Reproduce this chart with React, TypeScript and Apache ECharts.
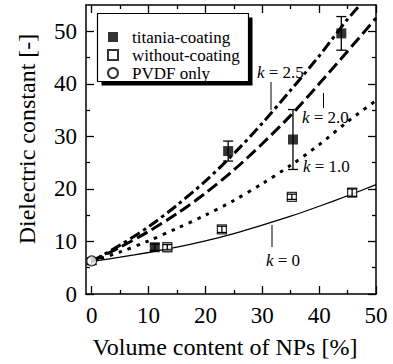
import { useEffect, useRef } from "react";
import * as echarts from "echarts";

const FONT = "Liberation Serif, serif";

// axis ticks
const xTicks = [0, 10, 20, 30, 40, 50];
const xMinor = [5, 15, 25, 35, 45];
const yTicks = [0, 10, 20, 30, 40, 50];
const yMinor = [5, 15, 25, 35, 45];

// model curves
const curveX = [0, 5, 10, 15, 20, 25, 30, 35, 40, 45, 50];
const k0 = [6.2, 7.0, 7.9, 8.9, 10.1, 11.5, 13.1, 14.8, 16.7, 18.7, 20.8];
const k10 = [6.2, 8.0, 10.1, 12.5, 15.0, 17.8, 21.0, 24.5, 28.4, 32.8, 36.8];
const k20 = [6.2, 8.9, 11.9, 15.3, 19.2, 23.6, 28.6, 34.0, 40.0, 46.2, 52.5];
const k25X = [0, 5, 10, 15, 20, 25, 30, 35, 40, 45, 47.2];
const k25 = [6.2, 9.3, 12.8, 16.9, 21.5, 26.7, 32.5, 38.8, 45.3, 52.3, 55];

// measurements
const titaniaX = [11.1, 24.0, 35.4, 43.9];
const titaniaY = [8.9, 27.2, 29.4, 49.6];
const titaniaLo = [8.3, 25.3, 23.7, 46.4];
const titaniaHi = [9.5, 29.1, 35.1, 52.8];

const withoutX = [13.3, 22.9, 35.2, 45.8];
const withoutY = [8.9, 12.3, 18.5, 19.3];
const withoutLo = [8.4, 11.7, 18.0, 18.6];
const withoutHi = [9.4, 12.9, 19.0, 20.0];

const pvdfX = [0];
const pvdfY = [6.3];
const pvdfLo = [5.6];
const pvdfHi = [6.9];

const legendNames = ["titania-coating", "without-coating", "PVDF only"];

const zip = (a: number[], b: number[]) => a.map((v, i) => [v, b[i]]);
const zip3 = (a: number[], b: number[], c: number[]) => a.map((v, i) => [v, b[i], c[i]]);

function errRender(params: any, api: any) {
  const x = api.value(0);
  const lo = api.coord([x, api.value(1)]);
  const hi = api.coord([x, api.value(2)]);
  const w = 5;
  const style = { stroke: "#000", lineWidth: 1.3 };
  return {
    type: "group",
    children: [
      { type: "line", shape: { x1: lo[0], y1: lo[1], x2: hi[0], y2: hi[1] }, style },
      { type: "line", shape: { x1: hi[0] - w, y1: hi[1], x2: hi[0] + w, y2: hi[1] }, style },
      { type: "line", shape: { x1: lo[0] - w, y1: lo[1], x2: lo[0] + w, y2: lo[1] }, style },
    ],
  };
}

function xAxisDef(position: string, values: number[], len: number, labels: boolean, lineShow: boolean) {
  return {
    type: "value",
    min: -1,
    max: 50,
    position,
    axisLine: { show: lineShow, onZero: false, lineStyle: { color: "#000", width: 1.5 } },
    axisTick: { show: true, inside: true, length: len, customValues: values, lineStyle: { color: "#000", width: 1.3 } },
    axisLabel: labels
      ? { show: true, customValues: values, margin: 10, color: "#000", fontFamily: FONT, fontSize: 23 }
      : { show: false },
    splitLine: { show: false },
  };
}

function yAxisDef(position: string, values: number[], len: number, labels: boolean, lineShow: boolean) {
  return {
    type: "value",
    min: 0,
    max: 55,
    position,
    axisLine: { show: lineShow, onZero: false, lineStyle: { color: "#000", width: 1.5 } },
    axisTick: { show: true, inside: true, length: len, customValues: values, lineStyle: { color: "#000", width: 1.3 } },
    axisLabel: labels
      ? { show: true, customValues: values, margin: 9, color: "#000", fontFamily: FONT, fontSize: 23 }
      : { show: false },
    splitLine: { show: false },
  };
}

function kLabel(text: string, x: number, y: number) {
  return {
    type: "text",
    x,
    y,
    z: 20,
    style: {
      text: "{i|k} = " + text,
      fill: "#000",
      fontFamily: FONT,
      fontSize: 17,
      verticalAlign: "middle",
      align: "left",
      rich: {
        i: { fontStyle: "italic", fontFamily: FONT, fontSize: 17, fill: "#000" },
      },
    },
  };
}

function vline(x: number, y1: number, y2: number) {
  return { type: "line", z: 20, shape: { x1: x, y1, x2: x, y2 }, style: { stroke: "#000", lineWidth: 1 } };
}

export default function App() {
  const ref = useRef<HTMLDivElement>(null);
  useEffect(() => {
    document.body.style.margin = "0";
    const chart = echarts.init(ref.current!, null, { renderer: "svg" });
    chart.setOption({
      animation: false,
      backgroundColor: "#fff",
      textStyle: { fontFamily: FONT },
      grid: { left: 86, right: 17, top: 5, bottom: 70 },
      xAxis: [
        xAxisDef("bottom", xTicks, 8, true, true),
        xAxisDef("bottom", xMinor, 4, false, false),
        xAxisDef("top", xTicks, 8, false, true),
        xAxisDef("top", xMinor, 4, false, false),
      ],
      yAxis: [
        yAxisDef("left", yTicks, 8, true, true),
        yAxisDef("left", yMinor, 4, false, false),
        yAxisDef("right", yTicks, 8, false, true),
        yAxisDef("right", yMinor, 4, false, false),
      ],
      legend: {
        data: legendNames,
        orient: "vertical",
        left: 102,
        top: 23.5,
        z: 10,
        itemWidth: 10,
        itemHeight: 10,
        itemGap: 1,
        selectedMode: false,
        textStyle: { fontFamily: FONT, fontSize: 17, lineHeight: 17, color: "#000", padding: [0, 0, 0, 9] },
      },
      graphic: [
        { type: "rect", z: 5, shape: { x: 101.5, y: 17.5, width: 151, height: 68 }, style: { fill: "#000" } },
        {
          type: "rect",
          z: 6,
          shape: { x: 97.5, y: 13.5, width: 151, height: 68 },
          style: { fill: "#fff", stroke: "#000", lineWidth: 1.2 },
        },
        {
          type: "text",
          x: 27,
          y: 139,
          rotation: Math.PI / 2,
          style: {
            text: "Dielectric constant [-]",
            fontFamily: FONT,
            fontSize: 24,
            fill: "#000",
            align: "center",
            verticalAlign: "middle",
          },
        },
        {
          type: "text",
          x: 225,
          y: 347,
          style: {
            text: "Volume content of NPs [%]",
            fontFamily: FONT,
            fontSize: 24,
            fill: "#000",
            align: "center",
            verticalAlign: "middle",
          },
        },
        kLabel("2.5", 257, 72),
        vline(271, 82, 110),
        kLabel("2.0", 302, 117),
        vline(323.5, 93, 108),
        kLabel("1.0", 303, 166),
        kLabel("0", 266, 260),
        vline(272, 225, 247),
      ],
      series: [
        {
          name: "k = 0",
          type: "line",
          data: zip(curveX, k0),
          symbol: "none",
          smooth: 0.3,
          lineStyle: { color: "#000", width: 1.3 },
          z: 3,
        },
        {
          name: "k = 1.0",
          type: "line",
          data: zip(curveX, k10),
          symbol: "none",
          smooth: 0.3,
          lineStyle: { color: "#000", width: 3, type: [3.5, 6], cap: "butt" },
          z: 3,
        },
        {
          name: "k = 2.0",
          type: "line",
          data: zip(curveX, k20),
          symbol: "none",
          smooth: 0.3,
          lineStyle: { color: "#000", width: 3, type: [12, 5], cap: "butt" },
          z: 3,
        },
        {
          name: "k = 2.5",
          type: "line",
          data: zip(k25X, k25),
          symbol: "none",
          smooth: 0.3,
          lineStyle: { color: "#000", width: 3, type: [11, 4, 3.5, 4], cap: "butt" },
          z: 3,
        },
        {
          name: "titania-coating",
          type: "scatter",
          data: zip(titaniaX, titaniaY),
          symbol: "rect",
          symbolSize: 10,
          itemStyle: { color: "#000" },
          z: 5,
        },
        {
          name: "without-coating",
          type: "scatter",
          data: zip(withoutX, withoutY),
          symbol: "rect",
          symbolSize: 9,
          itemStyle: { color: "#fff", borderColor: "#000", borderWidth: 1.3 },
          z: 5,
        },
        {
          name: "PVDF only",
          type: "scatter",
          data: zip(pvdfX, pvdfY),
          symbol: "circle",
          symbolSize: 10,
          itemStyle: { color: "#fff", borderColor: "#000", borderWidth: 1.3 },
          z: 5,
        },
        {
          name: "err-titania",
          type: "custom",
          renderItem: errRender,
          data: zip3(titaniaX, titaniaLo, titaniaHi),
          encode: { x: 0, y: [1, 2] },
          z: 6,
        },
        {
          name: "err-without",
          type: "custom",
          renderItem: errRender,
          data: zip3(withoutX, withoutLo, withoutHi),
          encode: { x: 0, y: [1, 2] },
          z: 6,
        },
        {
          name: "err-pvdf",
          type: "custom",
          renderItem: errRender,
          data: zip3(pvdfX, pvdfLo, pvdfHi),
          encode: { x: 0, y: [1, 2] },
          z: 4,
        },
      ],
    });
    return () => chart.dispose();
  }, []);
  return <div ref={ref} style={{ position: "fixed", left: 0, top: 0, width: 393, height: 364 }} />;
}
